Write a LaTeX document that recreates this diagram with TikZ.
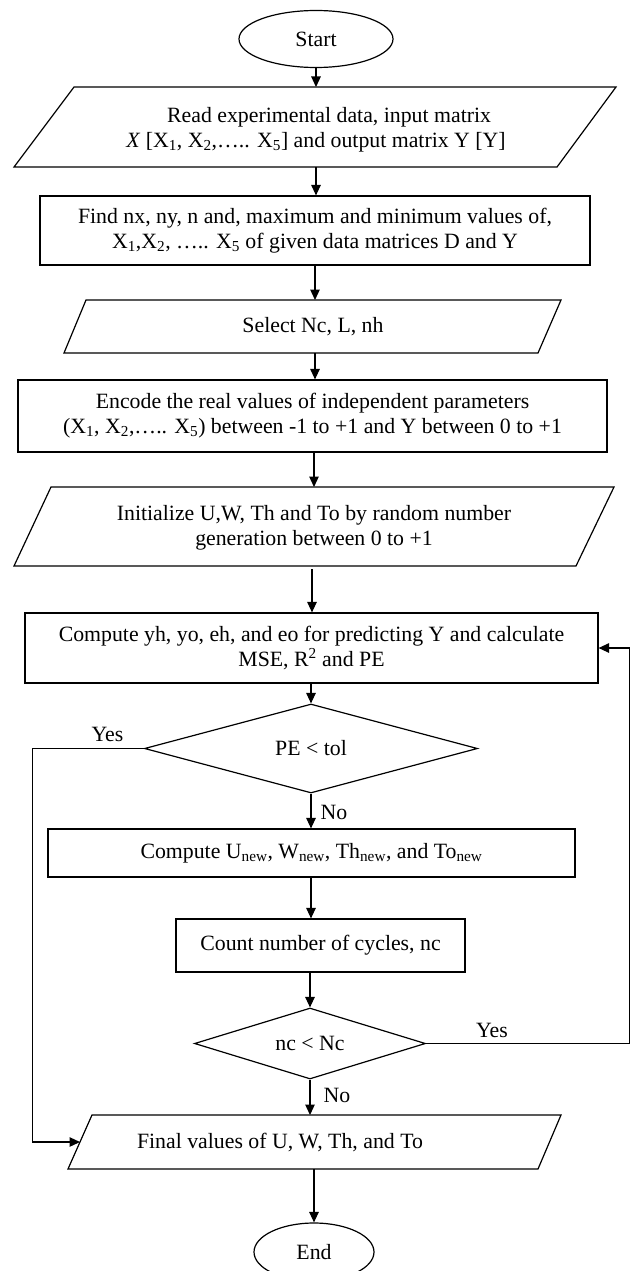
\documentclass[tikz,border=0pt]{standalone}
\usepackage{fontspec}
\setmainfont{Liberation Serif}
\usetikzlibrary{arrows.meta,shapes.geometric}
\begin{document}
\begin{tikzpicture}[x=1pt,y=-1pt,line width=1.2pt,
  >={Triangle[length=10.5pt,width=9.5pt]},
  every node/.style={font=\fontsize{21.8}{25}\selectfont},
  txt/.style={align=center,inner sep=0pt},
  box/.style={draw,rectangle,inner sep=0pt,align=center},
  term/.style={draw,ellipse,inner sep=0pt},
  dec/.style={draw,diamond,aspect=3,inner sep=0pt},
  lbl/.style={inner sep=0pt}]
\useasboundingbox (0,0) rectangle (630,1271);

% terminals
\node[term,minimum width=154pt,minimum height=57pt] (start) at (316,39) {Start};
\node[term,minimum width=120pt,minimum height=58pt] (end) at (314,1252) {End};

% Read (parallelogram)
\draw (74,87) -- (616,87) -- (557,167) -- (14,167) -- cycle;
\node[txt] (read) at (316,130) {\hspace*{1.2em}Read experimental data, input matrix\\\textit{X} [X\textsubscript{1}, X\textsubscript{2},….. X\textsubscript{5}] and output matrix Y [Y]};
\coordinate (readT) at (316,87);
\coordinate (readB) at (316,167);

% Find box
\node[box,minimum width=550pt,minimum height=69pt] (find) at (315,230.5) {Find nx, ny, n and, maximum and minimum values of,\\X\textsubscript{1},X\textsubscript{2}, ….. X\textsubscript{5} of given data matrices D and Y};

% Select (parallelogram)
\draw (86,300) -- (561,300) -- (538,353) -- (64,353) -- cycle;
\node[txt] (select) at (313,327) {Select Nc, L, nh};
\coordinate (selT) at (315,300);
\coordinate (selB) at (315,353);

% Encode box
\node[box,minimum width=589pt,minimum height=72pt] (encode) at (312.5,416) {Encode the real values of independent parameters\\(X\textsubscript{1}, X\textsubscript{2},….. X\textsubscript{5}) between -1 to +1 and Y between 0 to +1};

% Initialize (parallelogram)
\draw (51,487) -- (614,487) -- (576,566) -- (14,566) -- cycle;
\node[txt] (init) at (314,528) {Initialize U,W, Th and To by random number\\generation between 0 to +1};
\coordinate (initT) at (314,487);
\coordinate (initB) at (312,569);

% Compute box
\node[box,minimum width=573pt,minimum height=70pt] (comp) at (311.5,648) {Compute yh, yo, eh, and eo for predicting Y and calculate\\MSE, R\textsuperscript{2} and PE};

% Decision 1
\node[dec,minimum width=333pt,minimum height=89pt] (d1) at (311,748.5) {PE < tol};

% Compute new
\node[box,minimum width=527pt,minimum height=48pt] (cnew) at (311.5,853) {Compute U\textsubscript{new}, W\textsubscript{new}, Th\textsubscript{new}, and To\textsubscript{new}};

% Count box
\node[box,minimum width=289pt,minimum height=53pt] (count) at (320.5,945.5) {Count number of cycles, nc};

% Decision 2
\node[dec,minimum width=231pt,minimum height=71pt] (d2) at (310,1043.5) {nc < Nc};

% Final (parallelogram)
\draw (92,1115) -- (561,1115) -- (538,1169) -- (68,1169) -- cycle;
\node[txt] (final) at (280,1142) {Final values of U, W, Th, and To};
\coordinate (finT) at (310,1115);
\coordinate (finB) at (314,1169);
\coordinate (finL) at (80,1142);

% labels
\node[lbl] (yes1) at (107.5,734) {Yes};
\node[lbl] (no1) at (334,812) {No};
\node[lbl] (yes2) at (492,1030) {Yes};
\node[lbl] (no2) at (337,1095) {No};

% connectors
\draw[->] (start.south) -- (readT);
\draw[->] (readB) -- (readB |- find.north);
\draw[->] (find.south) -- (selT);
\draw[->] (selB) -- (selB |- encode.north);
\draw[->] (initT |- encode.south) -- (initT);
\draw[->] (initB) -- (initB |- comp.north);
\draw[->] (d1.north |- comp.south) -- (d1.north);
\draw[->] (d1.south) -- (d1.south |- cnew.north);
\draw[->] (d1.south |- cnew.south) -- (d1.south |- count.north);
\draw[->] (d2.north |- count.south) -- (d2.north);
\draw[->] (d2.south) -- (finT);
\draw[->] (finB) -- (end.north);
\draw[->] (d1.west) -- (32.5,748.5) -- (32.5,1142) -- (finL);
\draw[->] (d2.east) -- (629.4,1043.5) -- (629.4,648) -- (comp.east);
\end{tikzpicture}
\end{document}
